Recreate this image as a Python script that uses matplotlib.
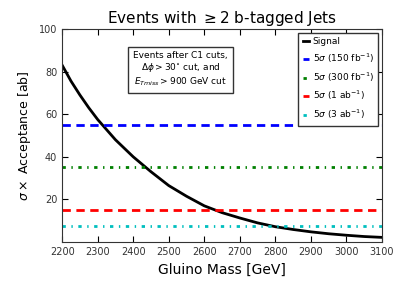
import matplotlib
matplotlib.use("Agg")
import matplotlib.pyplot as plt

mass = [2200, 2225, 2250, 2275, 2300, 2350, 2400, 2450, 2500, 2550, 2600, 2650,
        2700, 2750, 2800, 2850, 2900, 2950, 3000, 3050, 3100]
signal = [83, 75.5, 69, 63, 57.5, 48, 40, 33, 26.5, 21.5, 17, 13.8,
          11.3, 9, 7.2, 5.9, 4.8, 3.9, 3.2, 2.6, 2.2]

limit_labels = [r"5$\sigma$ (150 fb$^{-1}$)", r"5$\sigma$ (300 fb$^{-1}$)",
                r"5$\sigma$ (1 ab$^{-1}$)", r"5$\sigma$ (3 ab$^{-1}$)"]
limit_values = [55, 35, 15, 7.5]
limit_colors = ["blue", "green", "red", "c"]
limit_dashes = [(3, 2), (1.2, 2, 0.5, 2), (3, 2), (1.2, 2, 0.5, 2)]

xticks = [2200, 2300, 2400, 2500, 2600, 2700, 2800, 2900, 3000, 3100]
yticks = [20, 40, 60, 80, 100]

fig = plt.figure(figsize=(4.17, 2.92), dpi=100)
ax = fig.add_axes([0.149, 0.171, 0.767, 0.730])

ax.plot(mass, signal, color="black", lw=2, label="Signal")
for lab, v, c, d in zip(limit_labels, limit_values, limit_colors, limit_dashes):
    ax.axhline(v, color=c, lw=2, dashes=d, label=lab)

ax.set_xlim(2200, 3100)
ax.set_ylim(0, 100)
ax.set_xticks(xticks)
ax.set_yticks(yticks)
ax.tick_params(direction="in", top=True, right=True, labelsize=7,
               labelcolor="#333333", length=4)
for s in ax.spines.values():
    s.set_color("#333333")

ax.set_xlabel("Gluino Mass [GeV]", fontsize=10)
ax.set_ylabel(r"$\sigma\times$ Acceptance [ab]", fontsize=9)
ax.set_title(r"Events with $\geq 2$ b-tagged Jets", fontsize=11, pad=4)

ax.text(0.37, 0.81,
        "Events after C1 cuts,\n" r"$\Delta\phi > 30^{\circ}$ cut, and" "\n"
        r"$E_{T miss} > 900$ GeV cut",
        transform=ax.transAxes, fontsize=6.5, ha="center", va="center",
        linespacing=1.1,
        bbox=dict(facecolor="white", edgecolor="#333333", boxstyle="square,pad=0.6"))

leg = ax.legend(loc="upper right", fontsize=6.5, handlelength=0.7,
                handletextpad=0.4, fancybox=False, framealpha=1,
                borderpad=0.5, labelspacing=0.6, borderaxespad=0.4)
leg.get_frame().set_edgecolor("#333333")

fig.savefig("out.png", dpi=100)
